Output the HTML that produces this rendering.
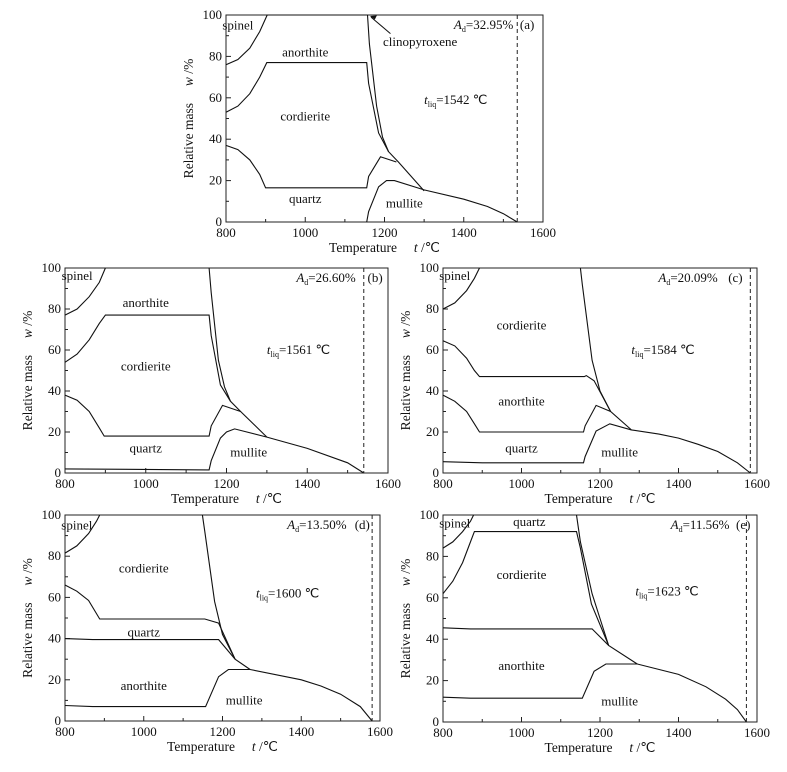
<!DOCTYPE html>
<html><head><meta charset="utf-8"><style>
body{margin:0;background:#fff}
svg text{font-family:"Liberation Serif",serif;fill:#111}
</style></head><body>
<svg id="fig" width="787" height="767" viewBox="0 0 787 767" xmlns="http://www.w3.org/2000/svg"></svg>
<script>
// ---- data (temperature °C, relative mass %) ----
const xTicks = [800, 1000, 1200, 1400, 1600];
const yTicks = [0, 20, 40, 60, 80, 100];
// panel a
const aSpinel = [[800,76],[830,78.5],[860,84],[885,92],[904,100]];
const aTop = [[904,100],[1157,100]];
const aCord = [[800,53],[830,56],[860,62],[885,70],[903,77],[1155,77],[1160,67],[1185,43],[1210,34]];
const aOuter = [[1157,100],[1162,86],[1180,56],[1195,41],[1210,34],[1235,29],[1300,15]];
const aQuartz = [[800,37],[830,35],[860,30],[885,23],[900,16.5],[1155,16.5],[1160,22],[1190,31.5],[1230,29]];
const aMullite = [[1155,0],[1160,5],[1185,17],[1205,20],[1225,20],[1300,15.5],[1400,11],[1460,7.5],[1500,4],[1535,0]];
const aDash = 1535;
// panel b
const bSpinel = [[800,77],[830,80],[860,86],[885,93],[900,100]];
const bCord = [[800,54],[830,58],[860,65],[885,73],[900,77],[1157,77],[1162,67],[1185,43],[1210,35]];
const bOuter = [[1157,100],[1162,88],[1180,55],[1195,42],[1210,35],[1235,30],[1300,17.5]];
const bQuartz = [[800,38],[830,35.5],[860,30],[885,22],[897,18],[1157,18],[1162,23],[1190,33],[1235,30]];
const bMullite = [[800,2],[1157,1.5],[1162,6],[1185,17],[1200,20],[1220,21.5],[1300,17.5],[1400,12],[1500,5],[1540,0]];
const bDash = 1540;
// panel c
const cSpinel = [[800,80],[830,83],[860,89],[880,95],[893,100]];
const cOuter = [[1150,100],[1155,92],[1180,55],[1200,40],[1227,30]];
const cCord = [[800,64.5],[830,62],[860,56],[880,50],[893,47],[1160,47],[1165,47.5],[1185,45],[1227,30]];
const cAnor = [[800,38],[830,35],[860,30],[880,24],[893,20],[1158,20],[1162,23],[1190,33],[1227,30],[1280,21]];
const cMullite = [[800,5.5],[900,5],[1158,5],[1162,8],[1190,20.5],[1225,24],[1280,21],[1350,19],[1400,17],[1450,14],[1500,10.5],[1550,5],[1583,0]];
const cDash = 1583;
// panel d
const dSpinel = [[800,81.5],[830,85],[860,91],[880,97],[888,100]];
const dOuter = [[1149,100],[1155,92],[1180,58],[1200,42],[1232,30]];
const dCord = [[800,66],[830,63],[860,58.5],[888,49.5],[1155,49.5],[1190,47.5],[1232,30]];
const dQuartz = [[800,40],[870,39.5],[1160,39.5],[1190,39.5],[1232,30],[1270,25]];
const dMullite = [[800,7.5],[870,7],[1157,7],[1190,21.5],[1215,25],[1270,25],[1400,20],[1450,17],[1500,13],[1550,7],[1580,0]];
const dDash = 1580;
// panel e
const eSpinel = [[800,84],[825,87],[850,92],[870,97],[878,100]];
const eCord = [[800,62],[825,68],[850,77],[866,85],[880,92],[1140,92],[1150,84],[1178,57],[1222,37]];
const eOuter = [[1140,100],[1150,87],[1180,62],[1200,50],[1222,37]];
const eAnor = [[800,45.5],[870,45],[1180,45],[1222,37],[1295,28]];
const eMullite = [[800,12],[870,11.5],[1155,11.5],[1185,24.5],[1215,28],[1295,28],[1400,23],[1470,17],[1520,11],[1550,6],[1573,0]];
const eDash = 1573;

const panels = [
 {id:'a',x0:226,x1:543,yt:15,yb:222,series:[aSpinel,aTop,aCord,aOuter,aQuartz,aMullite],dash:aDash,
  ad:'32.95%',adT:1525,tag:'(a)',tagT:1560,tl:'1542',tlT:1300,tlW:59,
  labels:[['spinel',830,95],['anorthite',1000,82],['cordierite',1000,51],['quartz',1000,11],['mullite',1250,9],['clinopyroxene',1290,87]],arrow:true},
 {id:'b',x0:65,x1:388,yt:268,yb:473,series:[bSpinel,bCord,bOuter,bQuartz,bMullite],dash:bDash,
  ad:'26.60%',adT:1520,tag:'(b)',tagT:1568,tl:'1561',tlT:1300,tlW:60,
  labels:[['spinel',830,96],['anorthite',1000,83],['cordierite',1000,52],['quartz',1000,12],['mullite',1255,10]]},
 {id:'c',x0:443,x1:757,yt:268,yb:473,series:[cSpinel,cOuter,cCord,cAnor,cMullite],dash:cDash,
  ad:'20.09%',adT:1500,tag:'(c)',tagT:1545,tl:'1584',tlT:1280,tlW:60,
  labels:[['spinel',830,96],['cordierite',1000,72],['anorthite',1000,35],['quartz',1000,12],['mullite',1250,10]]},
 {id:'d',x0:65,x1:380,yt:515,yb:721,series:[dSpinel,dOuter,dCord,dQuartz,dMullite],dash:dDash,
  ad:'13.50%',adT:1515,tag:'(d)',tagT:1555,tl:'1600',tlT:1285,tlW:62,
  labels:[['spinel',830,95],['cordierite',1000,74],['quartz',1000,43],['anorthite',1000,17],['mullite',1255,10]]},
 {id:'e',x0:443,x1:757,yt:515,yb:722,series:[eSpinel,eCord,eOuter,eAnor,eMullite],dash:eDash,
  ad:'11.56%',adT:1530,tag:'(e)',tagT:1565,tl:'1623',tlT:1290,tlW:63,
  labels:[['spinel',830,96],['quartz',1020,96.5],['cordierite',1000,71],['anorthite',1000,27],['mullite',1250,10]]}
];

const NS='http://www.w3.org/2000/svg';
const svg=document.getElementById('fig');
function mk(tag,attrs,parent,text){const e=document.createElementNS(NS,tag);for(const k in attrs)e.setAttribute(k,attrs[k]);if(text!==undefined)e.textContent=text;(parent||svg).appendChild(e);return e;}

panels.forEach(p=>{
  const sx=t=>p.x0+(t-800)/800*(p.x1-p.x0);
  const sy=w=>p.yb-w/100*(p.yb-p.yt);
  const g=mk('g',{});
  
  
  const fr=mk('rect',{x:p.x0,y:p.yt,width:p.x1-p.x0,height:p.yb-p.yt,fill:'none',stroke:'#222','stroke-width':1},g);
  
  
  for(let t=800;t<=1600;t+=100){const len=t%200===0?5:3;
    mk('line',{x1:sx(t),x2:sx(t),y1:p.yb,y2:p.yb-len,stroke:'#222'},g);}
  xTicks.forEach(t=>{const tx=mk('text',{x:sx(t),y:p.yb+15,'text-anchor':'middle','font-size':13},g,String(t));
    
    });
  for(let w=0;w<=100;w+=10){const len=w%20===0?5:3;
    mk('line',{x1:p.x0,x2:p.x0+len,y1:sy(w),y2:sy(w),stroke:'#222'},g);}
  yTicks.forEach(w=>{const tx=mk('text',{x:p.x0-4,y:sy(w)+4,'text-anchor':'end','font-size':13},g,String(w));
    
    });
  // axis titles
  const xt=mk('text',{x:(p.x0+p.x1)/2,y:p.yb+30,'text-anchor':'middle','font-size':13.5},g);
  
  
  mk('tspan',{},xt,'Temperature\u00a0\u00a0\u00a0\u00a0\u00a0');
  mk('tspan',{'font-style':'italic'},xt,'t');
  mk('tspan',{},xt,' /\u2103');
  const cx=p.x0-33, cy=(p.yt+p.yb)/2;
  const yt=mk('text',{x:cx,y:cy,'text-anchor':'middle','font-size':13.5,transform:`rotate(-90 ${cx} ${cy})`},g);
  
  
  mk('tspan',{},yt,'Relative mass\u00a0\u00a0\u00a0\u00a0\u00a0');
  mk('tspan',{'font-style':'italic'},yt,'w');
  mk('tspan',{},yt,' /%');
  // series
  p.series.forEach((s,i)=>{
    const d=s.map((pt,j)=>(j?'L':'M')+sx(pt[0]).toFixed(1)+' '+sy(pt[1]).toFixed(1)).join(' ');
    const path=mk('path',{d:d,fill:'none',stroke:'#111','stroke-width':1.1},g);
    
    
  });
  const dl=mk('line',{x1:sx(p.dash),x2:sx(p.dash),y1:p.yt,y2:p.yb,stroke:'#222','stroke-dasharray':'4 3'},g);
  
  
  p.labels.forEach(l=>{const tx=mk('text',{x:sx(l[1]),y:sy(l[2])+4,'text-anchor':'middle','font-size':13},g,l[0]);
    
    });
  if(p.arrow){
    const ar=mk('line',{x1:sx(1215),y1:sy(91),x2:sx(1166),y2:sy(99),stroke:'#111'},g);
    
    
    mk('path',{d:`M${sx(1163)} ${sy(99.5)} l7 -0.5 l-2 4 z`,fill:'#111'},g);
  }
  const ad=mk('text',{x:sx(p.adT),y:p.yt+14,'text-anchor':'end','font-size':13},g);
  
  
  mk('tspan',{'font-style':'italic'},ad,'A');
  mk('tspan',{'font-size':8,dy:3},ad,'d');
  mk('tspan',{dy:-3},ad,'='+p.ad);
  const tg=mk('text',{x:sx(p.tagT),y:p.yt+14,'text-anchor':'middle','font-size':13},g,p.tag);
  
  
  const tl=mk('text',{x:sx(p.tlT),y:sy(p.tlW)+4,'font-size':13},g);
  
  
  mk('tspan',{'font-style':'italic'},tl,'t');
  mk('tspan',{'font-size':8,dy:3},tl,'liq');
  mk('tspan',{dy:-3},tl,'='+p.tl+' \u2103');
});
</script>
</body></html>
